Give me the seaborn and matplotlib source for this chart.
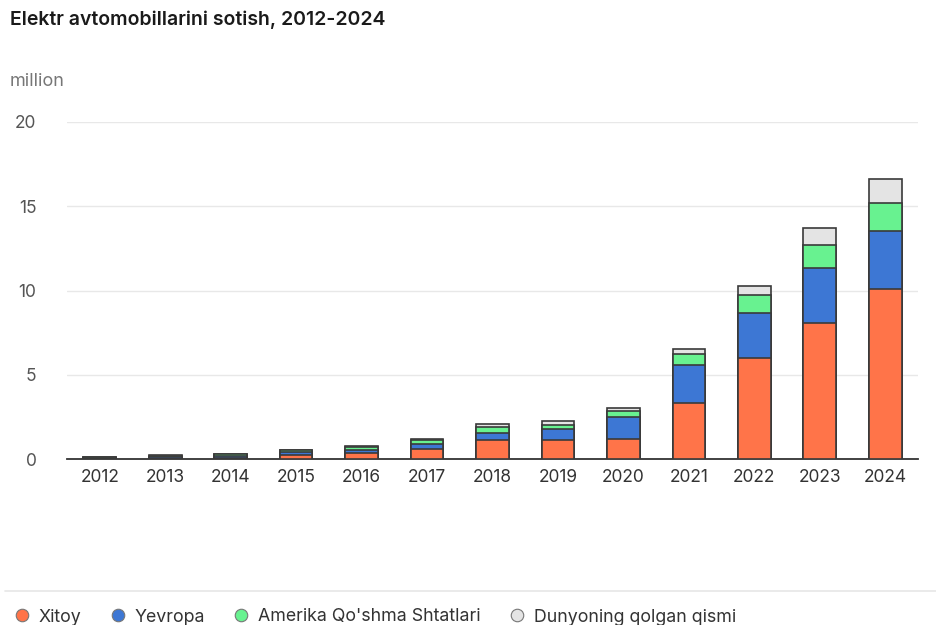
import matplotlib
matplotlib.use("Agg")
import matplotlib.pyplot as plt
from matplotlib.lines import Line2D
import seaborn as sns
import pandas as pd
import numpy as np

years = ["2012", "2013", "2014", "2015", "2016", "2017", "2018", "2019", "2020", "2021", "2022", "2023", "2024"]
china = [0.01, 0.02, 0.07, 0.21, 0.35, 0.60, 1.13, 1.15, 1.17, 3.34, 6.01, 8.07, 10.10]
europe = [0.03, 0.07, 0.10, 0.19, 0.21, 0.30, 0.41, 0.61, 1.34, 2.26, 2.67, 3.25, 3.44]
usa = [0.05, 0.10, 0.12, 0.11, 0.16, 0.20, 0.38, 0.28, 0.34, 0.63, 1.05, 1.36, 1.66]
rest = [0.03, 0.02, 0.03, 0.05, 0.05, 0.10, 0.16, 0.23, 0.16, 0.28, 0.56, 1.05, 1.40]

series_names = ["Xitoy", "Yevropa", "Amerika Qo'shma Shtatlari", "Dunyoning qolgan qismi"]
colors = ["#FF7449", "#3D77D4", "#68F290", "#E4E4E4"]
yticks = [0, 5, 10, 15, 20]

sns.set_theme(style="white")
plt.rcParams["font.family"] = ["Inter", "DejaVu Sans"]

df = pd.DataFrame({"year": years, "china": china, "europe": europe, "usa": usa, "rest": rest})
layers = ["china", "europe", "usa", "rest"]
cum = df[layers].cumsum(axis=1)

fig = plt.figure(figsize=(9.37, 6.25), dpi=100)
ax = fig.add_axes([67/937, 1 - 459/625, (918 - 67)/937, (459 - 122)/625])

# draw cumulative layers back to front
for i in reversed(range(len(layers))):
    sns.barplot(x=df["year"], y=cum[layers[i]], ax=ax, color=colors[i], width=0.5,
                edgecolor="#3a3a3a", linewidth=1.2, saturation=1, zorder=3)

ax.set_ylim(0, 20)
ax.set_xlim(-0.5, 12.5)
ax.set_yticks(yticks)
ax.set_yticklabels([str(v) for v in yticks], fontsize=12.5, color="#555555")
ax.yaxis.grid(True, color="#e8e8e8", linewidth=1)
ax.set_axisbelow(True)
ax.set_xlabel("")
ax.set_ylabel("")
for s in ["top", "right", "left"]:
    ax.spines[s].set_visible(False)
ax.spines["bottom"].set_color("#333333")
ax.spines["bottom"].set_linewidth(1.3)
ax.tick_params(axis="y", length=0, pad=22)
ax.set_xticks(range(len(years)))
ax.set_xticklabels(years, fontsize=12.5, color="#333333")
ax.tick_params(axis="x", length=0, pad=7)
ax.set_xticks(np.arange(0.5, 13, 1), minor=True)
ax.tick_params(axis="x", which="minor", length=7, width=1.3, color="#333333", direction="out")
for lbl in ax.get_yticklabels():
    lbl.set_horizontalalignment("right")

fig.text(10/937, 1 - 20/625, "Elektr avtomobillarini sotish, 2012-2024", fontsize=14,
         fontweight="semibold", color="#1a1a1a", ha="left", va="center")
fig.text(10/937, 1 - 81/625, "million", fontsize=13, color="#777777", ha="left", va="center")

fig.add_artist(Line2D([5/937, 1.0], [1 - 591/625, 1 - 591/625], color="#e6e6e6", linewidth=1.2))

handles = [Line2D([], [], marker="o", linestyle="", markersize=9, markerfacecolor=c,
                  markeredgecolor="#777777", markeredgewidth=0.8) for c in colors]
fig.legend(handles, series_names, loc="center left", bbox_to_anchor=(0.004, 1 - 617/625), ncol=4,
           frameon=False, fontsize=12.8, handletextpad=0.35, columnspacing=1.45, handlelength=1.2,
           labelcolor="#333333", borderaxespad=0)

fig.savefig("out.png", dpi=100, facecolor="white")
